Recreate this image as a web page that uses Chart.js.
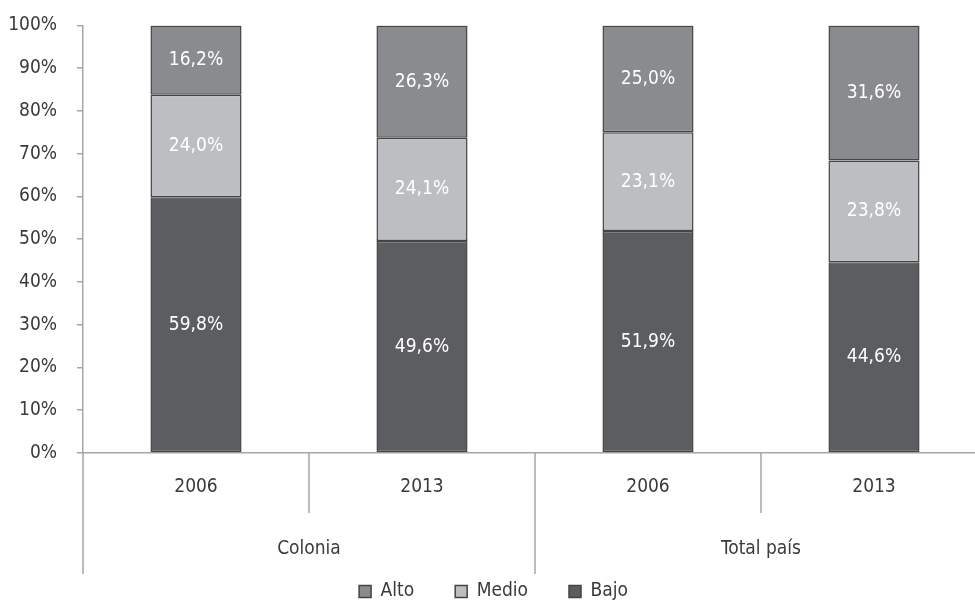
<!DOCTYPE html>
<html>
<head>
<meta charset="utf-8">
<script src="https://cdn.jsdelivr.net/npm/chart.js@4/dist/chart.umd.min.js"></script>
<style>
  html, body { margin: 0; padding: 0; background: #fff; overflow: hidden; }
  #wrap { width: 987px; height: 617px; margin-top: -6px; }
</style>
</head>
<body>
<div id="wrap"><canvas id="chart"></canvas></div>
<script>
// Datos
const anios = ['2006', '2013', '2006', '2013'];
const grupos = ['Colonia', 'Total país'];
const bajo = [59.8, 49.6, 51.9, 44.6];
const medio = [24.0, 24.1, 23.1, 23.8];
const alto = [16.2, 26.3, 25.0, 31.6];

const FUENTE = "'DejaVu Sans Condensed', 'Liberation Sans Narrow', sans-serif";
const TAM = 19;
const GRIS_EJE = '#a6a6a6';
const TEXTO = '#3a3a3a';

// Etiquetas blancas dentro de cada segmento
const etiquetas = {
    id: 'etiquetas',
    afterDatasetsDraw(chart) {
        const ctx = chart.ctx;
        ctx.save();
        ctx.font = TAM + 'px ' + FUENTE;
        ctx.fillStyle = '#ffffff';
        ctx.textAlign = 'center';
        ctx.textBaseline = 'middle';
        chart.data.datasets.forEach((ds, i) => {
            chart.getDatasetMeta(i).data.forEach((el, j) => {
                const txt = ds.data[j].toFixed(1).replace('.', ',') + '%';
                ctx.fillText(txt, el.x, (el.y + el.base) / 2);
            });
        });
        ctx.restore();
    }
};

// Separadores y nombres de grupo bajo el eje x
const grupoEje = {
    id: 'grupoEje',
    afterDraw(chart) {
        const ctx = chart.ctx;
        const x = chart.scales.x;
        const area = chart.chartArea;
        ctx.save();
        ctx.strokeStyle = GRIS_EJE;
        ctx.lineWidth = 1.5;
        const linea = (px, largo) => {
            ctx.beginPath();
            ctx.moveTo(px, area.bottom);
            ctx.lineTo(px, area.bottom + largo);
            ctx.stroke();
        };
        linea(area.left, 121);
        for (let i = 0; i < anios.length - 1; i++) {
            const mid = (x.getPixelForValue(i) + x.getPixelForValue(i + 1)) / 2;
            linea(mid, i === 1 ? 121 : 60);
        }
        ctx.font = TAM + 'px ' + FUENTE;
        ctx.fillStyle = TEXTO;
        ctx.textAlign = 'center';
        ctx.textBaseline = 'middle';
        grupos.forEach((g, k) => {
            const c = (x.getPixelForValue(2 * k) + x.getPixelForValue(2 * k + 1)) / 2;
            ctx.fillText(g, c, area.bottom + 96);
        });
        ctx.restore();
    }
};

const borde = '#444446';

new Chart(document.getElementById('chart'), {
    type: 'bar',
    data: {
        labels: anios,
        datasets: [
            { label: 'Bajo', data: bajo, backgroundColor: '#5c5d60', borderColor: borde, borderWidth: 1.5, borderSkipped: false },
            { label: 'Medio', data: medio, backgroundColor: '#bdbec1', borderColor: borde, borderWidth: 1.5, borderSkipped: false },
            { label: 'Alto', data: alto, backgroundColor: '#8a8b8e', borderColor: borde, borderWidth: 1.5, borderSkipped: false }
        ]
    },
    options: {
        responsive: true,
        maintainAspectRatio: false,
        animation: false,
        barPercentage: 0.403,
        categoryPercentage: 1,
        layout: { padding: { top: 0, left: 0, right: 0, bottom: 0 } },
        plugins: {
            legend: {
                position: 'bottom',
                reverse: true,
                labels: {
                    font: { family: FUENTE, size: TAM },
                    color: TEXTO,
                    boxWidth: 12,
                    boxHeight: 12,
                    padding: 41,
                    useBorderRadius: false
                }
            },
            tooltip: { enabled: false }
        },
        scales: {
            x: {
                stacked: true,
                grid: { display: false },
                border: { color: GRIS_EJE, width: 1.5 },
                ticks: { font: { family: FUENTE, size: TAM }, color: TEXTO, padding: 15 },
                afterFit(axis) { axis.height = 88; }
            },
            y: {
                stacked: true,
                min: 0,
                max: 100,
                grid: { drawOnChartArea: false, tickLength: 6, color: GRIS_EJE, lineWidth: 1.5 },
                border: { color: GRIS_EJE, width: 1.5 },
                ticks: {
                    stepSize: 10,
                    padding: 20,
                    font: { family: FUENTE, size: TAM },
                    color: TEXTO,
                    callback: v => v + '%'
                },
                afterFit(axis) { axis.width = 83; }
            }
        }
    },
    plugins: [etiquetas, grupoEje]
});
</script>
</body>
</html>
